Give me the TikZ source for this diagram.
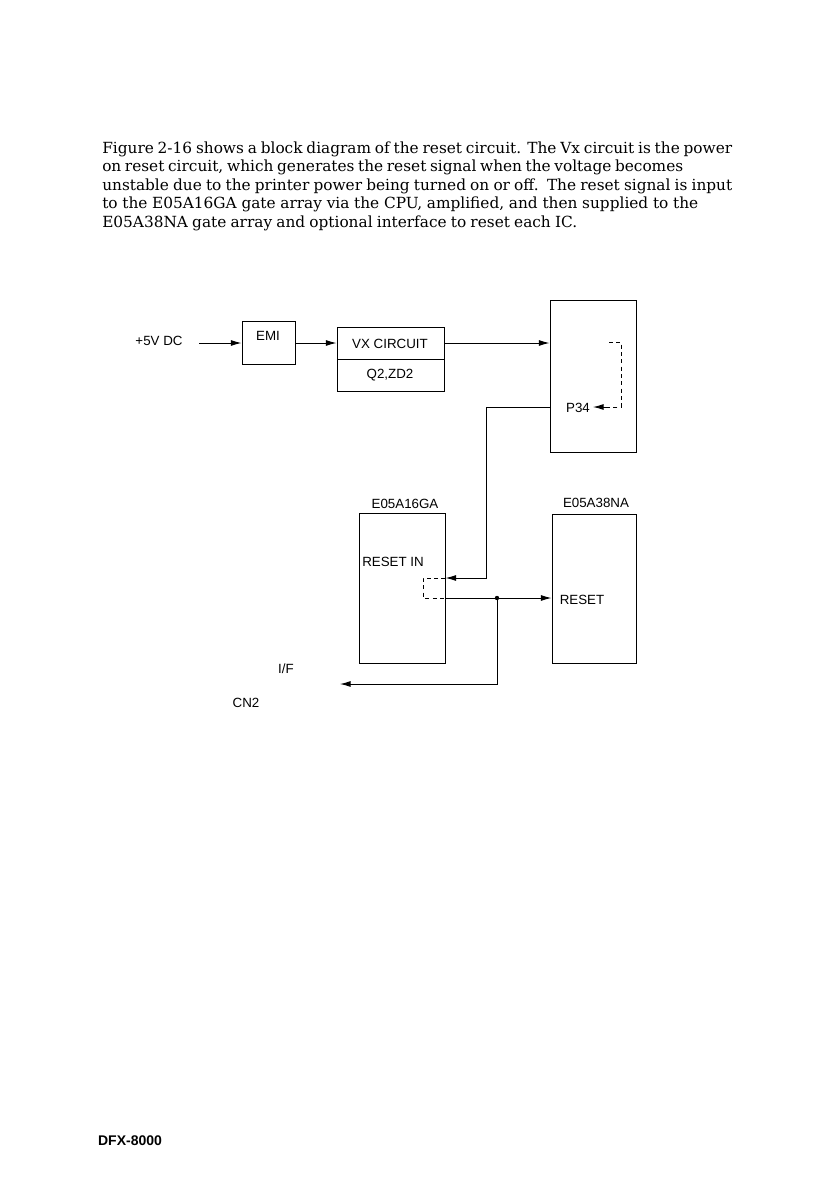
\documentclass[tikz,border=0pt]{standalone}
\usepackage{fontspec}
\setmainfont{DejaVu Serif}
\setsansfont{Liberation Sans}
\usetikzlibrary{arrows.meta}

\tikzset{
  blk/.style={draw, line width=0.7pt, inner sep=0pt},
  lbl/.style={font=\sffamily\fontsize{10}{12}\selectfont, inner sep=0pt},
  para/.style={font=\fontsize{11.5}{13}\selectfont, anchor=base west, inner sep=0pt},
  arr/.style={line width=0.7pt, -{Latex[length=8pt,width=4.5pt]}},
  wire/.style={line width=0.7pt},
  dsh/.style={line width=0.7pt, dash pattern={on 3pt off 2.5pt}}
}
% line width given in pt (pixels * 0.75)
\newcommand{\paraline}[2]{\makebox[#1pt][s]{#2}}

\begin{document}
\begin{tikzpicture}[x=0.75pt,y=0.75pt,yscale=-1,xscale=1]
\useasboundingbox (0,0) rectangle (831,1182);

% Text Node
\node[para] (l1) at (102,153) {\paraline{472.5}{Figure 2-16 shows a block diagram of the reset circuit. The Vx circuit is the power}};
\node[para] (l2) at (102,171.5) {\paraline{435.7}{on reset circuit, which generates the reset signal when the voltage becomes}};
\node[para] (l3) at (102,190) {\paraline{472.5}{unstable due to the printer power being turned on or off.\ \ The reset signal is input}};
\node[para] (l4) at (102,208.5) {\paraline{447}{to the E05A16GA gate array via the CPU, amplified, and then supplied to the}};
\node[para] (l5) at (102,227) {\paraline{356.2}{E05A38NA gate array and optional interface to reset each IC.}};

%Shape: Boxes
\node[blk, minimum width=53pt*0.75, minimum height=43pt*0.75] (emi) at (268.5,343) {};
\node[blk, minimum width=107pt*0.75, minimum height=32pt*0.75] (vx) at (390.5,343) {};
\node[blk, minimum width=107pt*0.75, minimum height=32pt*0.75] (q2) at (390.5,375) {};
\node[blk, minimum width=86pt*0.75, minimum height=152pt*0.75] (cpu) at (593,376) {};
\node[blk, minimum width=86pt*0.75, minimum height=150pt*0.75] (ga16) at (402,588) {};
\node[blk, minimum width=84pt*0.75, minimum height=149pt*0.75] (ga38) at (594,588.5) {};

% Text Node
\node[lbl] (t5v) at (159,341) {+5V DC};
\node[lbl] (temi) at (268,336) {EMI};
\node[lbl] (tvx) at (390,344) {VX CIRCUIT};
\node[lbl] (tq2) at (390,375) {Q2,ZD2};
\node[lbl] (tp34) at (578,408) {P34};
\node[lbl] (t16) at (405,504) {E05A16GA};
\node[lbl] (trin) at (393,562) {RESET IN};
\node[lbl] (t38) at (596,503) {E05A38NA};
\node[lbl] (trst) at (582,600) {RESET};
\node[lbl] (tif) at (286,669) {I/F};
\node[lbl] (tcn) at (246,703) {CN2};
\node[font=\sffamily\bfseries\fontsize{10.5}{12}\selectfont, inner sep=0pt] (tdfx) at (130,1141) {DFX-8000};

% Connectors
\coordinate (pwr) at (199,343);
\coordinate (c1) at (486,407);
\coordinate (c2) at (486,578);
\coordinate (dot) at (497,598);
\coordinate (c3) at (497,684);
\coordinate (cn) at (340,684);
\coordinate (d1) at (609,342);
\coordinate (d2) at (621,342);
\coordinate (d3) at (621,407);
\coordinate (d4) at (593,407);

\draw[arr] (pwr) -- (emi);
\draw[arr] (emi) -- (vx);
\draw[arr] (vx) -- (cpu.west |- vx);
\draw[arr] (cpu.west |- c1) -- (c1) -- (c2) -- (ga16.east |- c2);
\draw[dsh] (ga16.east |- c2) -- ++(-22,0) -- ++(0,20) -- (ga16.east |- dot);
\draw[arr] (ga16.east |- dot) -- (ga38.west |- dot);
\fill (dot) circle (2.2);
\draw[arr] (dot) -- (c3) -- (cn);
\draw[dsh] (d1) -- (d2) -- (d3) -- ++(-14,0);
\draw[arr] (d3) ++(-14,0) -- (d4);

\end{tikzpicture}
\end{document}
